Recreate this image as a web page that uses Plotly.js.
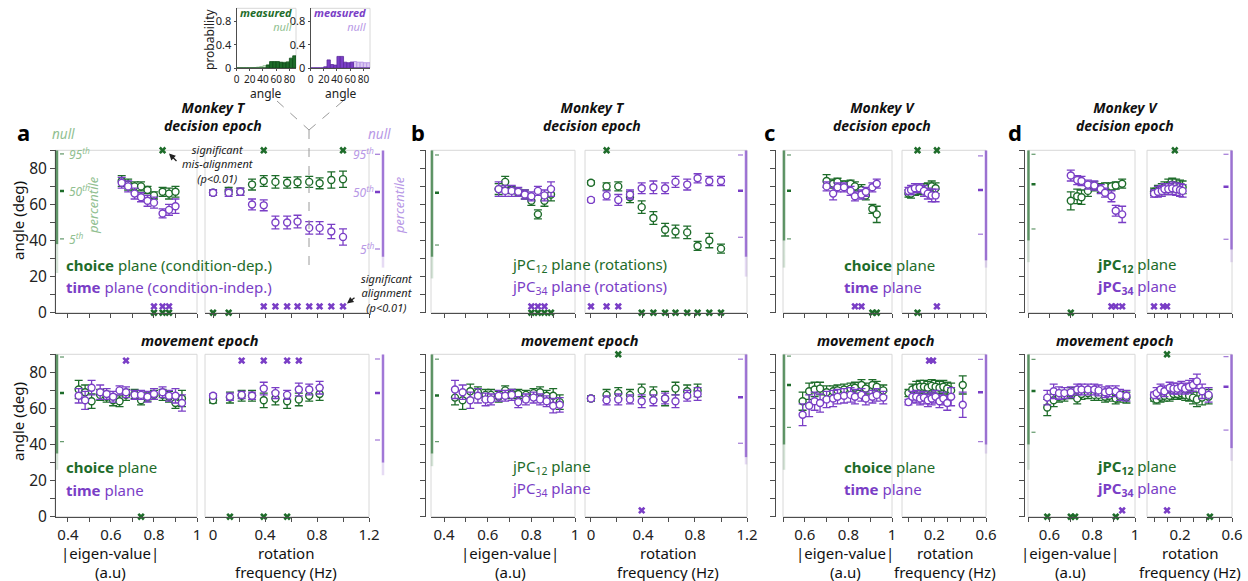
<!DOCTYPE html>
<html><head><meta charset="utf-8">
<script src="https://cdn.plot.ly/plotly-3.0.1.min.js"></script>
<style>html,body{margin:0;padding:0;background:#fff;}#chart{width:1248px;height:581px;}</style>
</head><body><div id="chart"></div>
<script>
// ================= DATA =================
// Panel a : Monkey T, choice / time planes
const aDecEigX = [0.65,0.68,0.71,0.74,0.77,0.80,0.84,0.87,0.90];
const aDecEigChoice = [73,71,70,70,68,65,67,66,67];
const aDecEigChoiceErr = [3,3,2.5,2.5,2,2,2.5,3,3];
const aDecEigTime = [72,70,66,64,62,61,55,57,59];
const aDecEigTimeErr = [3,3,3,2.5,3,3,2.5,3,4];
const aDecEigSig = {gMis:[0.84], gAli:[0.80,0.84,0.87], pMis:[], pAli:[0.80,0.84,0.87]};
const aDecRotX = [0,0.12,0.21,0.30,0.39,0.48,0.57,0.65,0.74,0.82,0.91,1.0];
const aDecRotChoice = [66.5,67.5,67,71,73,72.5,72,72.3,72.5,71.7,73.5,74];
const aDecRotChoiceErr = [1.5,2,2,3,3,3.5,3,3,3,3,4.5,4.5];
const aDecRotTime = [66.5,66.5,67,60,59.5,50,50,50.5,47,47,45,42];
const aDecRotTimeErr = [1.5,2,2,3,3,3.5,3.5,3.5,3.5,3.5,4,4.5];
const aDecRotSig = {gMis:[0.39,1.0], gAli:[0,0.12], pMis:[], pAli:[0.39,0.48,0.57,0.65,0.74,0.82,0.91,1.0]};
const aDecNullChoice = [40.9,67.5,88,38,22];   // p5, p50, p95, dense-until, faint-until
const aDecNullTime = [35.3,66.9,87.8,31,25];

const aMovEigX = [0.45,0.48,0.51,0.55,0.58,0.61,0.64,0.67,0.71,0.74,0.77,0.80,0.84,0.87,0.90,0.93];
const aMovEigChoice = [70.5,69,64,67.5,66.5,64.5,64,67.5,68,64.5,66.5,67.5,67.5,66.5,63,65.5];
const aMovEigChoiceErr = [5,4,4,3,3,3,3,3,2.5,2.5,2.5,2.5,3,3,3,4.5];
const aMovEigTime = [67,64.5,71.5,69,68,66.5,70,69,67.5,67.5,66.5,68,69,67,67,63];
const aMovEigTimeErr = [4,5,4,4,3,3,2.5,3,2.5,2.5,3,3,3,3,4,4.5];
const aMovEigSig = {gMis:[], gAli:[0.74], pMis:[0.67], pAli:[]};
const aMovRotX = [0,0.13,0.22,0.30,0.39,0.48,0.57,0.66,0.74,0.82];
const aMovRotChoice = [64.5,66,67,67,64.5,65.5,64,65,67,68];
const aMovRotChoiceErr = [1.5,3,3,3,4,3.5,4,3.5,3,3.5];
const aMovRotTime = [67,66.5,67.5,67,71,68.5,67.5,70.5,70.5,71.5];
const aMovRotTimeErr = [1,2,2,2,3.5,3,2.5,3.5,3,3.5];
const aMovRotSig = {gMis:[], gAli:[0.13,0.39,0.57], pMis:[0.22,0.39,0.57,0.66], pAli:[]};
const aMovNullChoice = [41.6,68.6,88.5,35,26];
const aMovNullTime = [42.5,68.6,87.4,30,23];

// Panel b : Monkey T, jPC planes
const bDecEigX = [0.65,0.68,0.71,0.74,0.77,0.80,0.83,0.86,0.89];
const bDecEigJ12 = [68.5,72.5,68,66.5,65.5,62,54.5,62,65.5];
const bDecEigJ12Err = [3,3,2,2,2.5,2.5,2.5,3,3.5];
const bDecEigJ34 = [68.5,67.5,67.5,67,65.5,64.5,67.5,65,68.5];
const bDecEigJ34Err = [4,3,3,2.5,2.5,2.5,2.5,3,4];
const bDecEigSig = {gMis:[], gAli:[0.80,0.83,0.86,0.89], pMis:[], pAli:[0.80,0.83,0.86]};
const bDecRotX = [0,0.12,0.21,0.30,0.39,0.48,0.57,0.65,0.74,0.82,0.91,1.0];
const bDecRotJ12 = [72,70,70,64,58.5,52.5,46,45,44.5,37,40,35.5];
const bDecRotJ12Err = [1,2,2.5,3,3.5,3.5,3.5,3.5,3.5,2.5,4,2.5];
const bDecRotJ34 = [62.5,65,62.5,65.5,69,69.5,69,72.5,71,74.5,73,73];
const bDecRotJ34Err = [1,2.5,3,2.5,3,3.5,3,3,3,2.5,2.5,2.5];
const bDecRotSig = {gMis:[0.12], gAli:[0.39,0.48,0.57,0.65,0.74,0.82,0.91,1.0], pMis:[], pAli:[0,0.12,0.21]};
const bDecNullJ12 = [37.5,66.5,87.4,31,19];
const bDecNullJ34 = [41.8,67.6,87.4,31,20];

const bMovEigX = [0.45,0.485,0.52,0.555,0.59,0.615,0.65,0.68,0.71,0.74,0.775,0.81,0.84,0.87,0.90,0.93];
const bMovEigJ12 = [66,64.5,69.5,69,67.5,67.5,66.5,70,68,68,67.5,68.5,69,67,67,63.5];
const bMovEigJ12Err = [4,5,4,3,3,3,3,2.5,2.5,2.5,2.5,2.5,3,3,4,4];
const bMovEigJ34 = [70.5,69,64.5,67,65,65,67,67,67.5,63.5,65,66,65,64,61.5,62];
const bMovEigJ34Err = [5,4,4.5,4,3.5,3,3,3,3,3,3,3,3,3,4,4];
const bMovEigSig = {gMis:[], gAli:[], pMis:[], pAli:[]};
const bMovRotX = [0,0.12,0.21,0.30,0.39,0.48,0.57,0.65,0.74,0.82];
const bMovRotJ12 = [65.5,67.5,68.5,67.5,70,68.5,65.5,71,69.5,70];
const bMovRotJ12Err = [1.5,3,3,3,3.5,3.5,4,3.5,3.5,3.5];
const bMovRotJ34 = [65.5,64.5,65,65,64,64.5,65.5,64,67,68];
const bMovRotJ34Err = [1,2.5,3,2.5,3.5,3,3,3.5,3,3.5];
const bMovRotSig = {gMis:[0.21], gAli:[], pMis:[], pAli:[0.39]};
const bMovNullJ12 = [41.6,67.1,87.3,35,28];
const bMovNullJ34 = [40.7,66.2,87.3,33,29];

// Panel c : Monkey V, choice / time planes
const cDecEigX = [0.70,0.73,0.75,0.78,0.81,0.83,0.86,0.88,0.91,0.93];
const cDecEigChoice = [73,71.5,72.5,71,71.5,70,68,65,57.5,54.5];
const cDecEigChoiceErr = [3.5,2.5,2,2,2,2.5,3,2.5,2.5,4.5];
const cDecEigTime = [70,66,69.5,69.5,67.5,64.5,65.5,67,69.5,71.5];
const cDecEigTimeErr = [2.5,3.5,2.5,2.5,2.5,2.5,2.5,2.5,2.5,2.5];
const cDecEigSig = {gMis:[], gAli:[0.91,0.93], pMis:[], pAli:[0.83,0.86]};
const cDecRotX = [0,0.02,0.05,0.085,0.12,0.15,0.18,0.21];
const cDecRotChoice = [66,66,67.5,68,68.5,69,70,69];
const cDecRotChoiceErr = [2,2.5,2.5,2.5,3,3,3,3];
const cDecRotTime = [67.5,68,69,69,67.5,66,65,65];
const cDecRotTimeErr = [2,2.5,2.5,2.5,3,3,3.5,3.5];
const cDecRotSig = {gMis:[0.07,0.22], gAli:[0.07], pMis:[], pAli:[0.22]};
const cDecNullChoice = [40.9,67.6,87.4,40,25];
const cDecNullTime = [43.5,68,86.9,29,25];

const cMovEigX = [0.59,0.62,0.645,0.67,0.70,0.73,0.75,0.78,0.81,0.83,0.86,0.88,0.91,0.93,0.96];
const cMovEigChoice = [64,69.5,70.5,71,69,69.5,70,70.5,71,71.5,73,71,73,72,70];
const cMovEigChoiceErr = [5,4.5,4,3.5,3.5,3,3,3,3,3,3,3,3,3,3];
const cMovEigTime = [56.5,61.5,64,63,65,65.5,66.5,67,67.5,66.5,67.5,65.5,66.5,67.5,66];
const cMovEigTimeErr = [6,6,5,5,4.5,4.5,4,4,4,4,3.5,3.5,3.5,3.5,3.5];
const cMovEigSig = {gMis:[], gAli:[], pMis:[], pAli:[]};
const cMovRotX = [0,0.03,0.06,0.09,0.12,0.15,0.18,0.21,0.24,0.27,0.30,0.33,0.42];
const cMovRotChoice = [68.5,70.5,71.5,72,72,71.5,72.5,72,71.5,72,71,70,73];
const cMovRotChoiceErr = [2,3,3.5,3.5,3.5,3.5,3.5,3.5,3.5,3.5,3.5,4,5];
const cMovRotTime = [63.5,66.5,66.5,65.5,66,64.5,65.5,66.5,64,65.5,63,66.5,62];
const cMovRotTimeErr = [1.5,3,3.5,3.5,3.5,3.5,3.5,3.5,3.5,3.5,4,5,7];
const cMovRotSig = {gMis:[], gAli:[], pMis:[0.16,0.19], pAli:[]};
const cMovNullChoice = [49.5,73,89,40,26];
const cMovNullTime = [41.6,69,87.2,40,35];

// Panel d : Monkey V, jPC planes
const dDecEigX = [0.70,0.73,0.75,0.78,0.81,0.84,0.86,0.89,0.91,0.94];
const dDecEigJ12 = [62,64.5,64,67.5,70,69,70,70,70.5,71.5];
const dDecEigJ12Err = [5,4,4,3,2.5,2.5,2,2,2,2.5];
const dDecEigJ34 = [76,73.5,73,71,70.5,68.5,66.5,64.5,56.5,54.5];
const dDecEigJ34Err = [3,2.5,2.5,2.5,2.5,2.5,2.5,3,3,4.5];
const dDecEigSig = {gMis:[], gAli:[0.70], pMis:[], pAli:[0.89,0.91,0.94]};
const dDecRotX = [0,0.03,0.06,0.08,0.11,0.14,0.17,0.20,0.22];
const dDecRotJ12 = [67,67.5,68.5,69.5,70.5,71,70.5,70,69.5];
const dDecRotJ12Err = [2,3,3,3,3.5,3.5,3.5,3.5,3.5];
const dDecRotJ34 = [66,67,67.5,68.5,68.5,69,68.5,68,67.5];
const dDecRotJ34Err = [2,3,3,3,3,3.5,3.5,3.5,3.5];
const dDecRotSig = {gMis:[0.16], gAli:[], pMis:[], pAli:[0,0.07,0.10]};
const dDecNullJ12 = [46.4,71.2,87.8,40,28];
const dDecNullJ34 = [40.7,69.8,87.8,35,28];

const dMovEigX = [0.59,0.62,0.645,0.67,0.70,0.73,0.75,0.78,0.81,0.83,0.86,0.88,0.91,0.93,0.96];
const dMovEigJ12 = [60.5,64.5,66.5,67,68.5,65.5,68,68.5,67.5,67.5,66.5,67,65.5,66.5,66];
const dMovEigJ12Err = [4.5,3.5,3,3,3,3,3,3,3,3,3,3,3,3,3];
const dMovEigJ34 = [66,69.5,68.5,68.5,69,70.5,70.5,70.5,70.5,70,69,69.5,69.5,67.5,67];
const dMovEigJ34Err = [4,4,3.5,3,3,3,3,3,3,3,3,3,3,3,3];
const dMovEigSig = {gMis:[], gAli:[0.59,0.70,0.72,0.91], pMis:[], pAli:[0.94]};
const dMovRotX = [0,0.02,0.05,0.08,0.12,0.15,0.18,0.21,0.24,0.27,0.30,0.33,0.37,0.42];
const dMovRotJ12 = [65.5,65,66.5,67,67,68,68,68.5,67.5,67,66,65,66,66.5];
const dMovRotJ12Err = [1.5,2.5,3,3,3,3,3,3,3,3,3.5,4,4,4];
const dMovRotJ34 = [67.5,68.5,70.5,69.5,71.5,71,71,72,71,72,73,75,69.5,67.5];
const dMovRotJ34Err = [1.5,3,3,3,3,3,3,3,3,3.5,3.5,4,4,4];
const dMovRotSig = {gMis:[0.10], gAli:[0.43], pMis:[], pAli:[0.10]};
const dMovNullJ12 = [46.8,69.7,87.2,40,26];
const dMovNullJ34 = [48,72,88.7,38,31];

// Inset histograms (angle distribution, 5-degree bins)
const binCenters = [2.5,7.5,12.5,17.5,22.5,27.5,32.5,37.5,42.5,47.5,52.5,57.5,62.5,67.5,72.5,77.5,82.5,87.5];
const histChoiceMeasured = [0,0,0,0,0,0,0,0,0,0.05,0.11,0.11,0.11,0.10,0.09,0.10,0.17,0.21];
const histChoiceNull = [0,0,0,0.003,0.005,0.008,0.015,0.025,0.04,0.055,0.065,0.075,0.085,0.095,0.10,0.11,0.12,0.13];
const histTimeMeasured = [0,0,0,0,0.02,0.14,0.06,0.05,0.20,0.20,0.10,0.09,0.10,0,0,0,0,0];
const histTimeNull = [0,0,0,0,0,0.005,0.01,0.02,0.03,0.05,0.07,0.08,0.10,0.11,0.10,0.10,0.09,0.09];

// Tick labels
const yTickVals = [0,10,20,30,40,50,60,70,80,90];
const yTickText = ['0','','20','','40','','60','','80',''];
const eigTicksAB = [0.4,0.5,0.6,0.7,0.8,0.9,1.0];
const eigTextAB = ['0.4','','0.6','','0.8','','1'];
const rotTicksAB = [0,0.2,0.4,0.6,0.8,1.0,1.2];
const rotTextAB = ['0','','0.4','','0.8','','1.2'];
const eigTicksCD = [0.5,0.6,0.7,0.8,0.9,1.0];
const eigTextCD = ['','0.6','','0.8','','1'];
const rotTicksCD = [0,0.1,0.2,0.3,0.4,0.5,0.6];
const rotTextCD = ['','','0.2','','','','0.6'];
const histXTicks = [0,20,40,60,80];
const histXText = ['0','20','40','60','80'];
const histYTicks = [0,0.4,0.8];
const histYText = ['0','0.4','0.8'];

// ================= DRAWING =================
const W = 1248, H = 581;
const px = x => x / W;
const py = y => 1 - y / H;
const G = '#1e6c2a', P = '#7a3ec6', LG = '#91bf91', LP = '#b899e6', AX = '#4d4d4d', FR = '#d8d8d8';
const FONT = '"Noto Sans", "Open Sans", sans-serif';
const MIS_G = 90, MIS_P = 86.5, ALI_G = 0, ALI_P = 3.5;

const traces = [], shapes = [], annotations = [];
const layout = {
  width: W, height: H, margin: {l:0, r:0, t:0, b:0},
  paper_bgcolor: '#fff', plot_bgcolor: 'rgba(0,0,0,0)', showlegend: false,
  font: {family: FONT, color: '#222', size: 15}, barmode: 'overlay', bargap: 0,
  shapes, annotations
};
const axKey = r => (r[0] === 'x' ? 'xaxis' : 'yaxis') + r.slice(1);

function addX(ref, yref, d0, d1, range, tv, tt, labels) {
  layout[axKey(ref)] = {domain: [px(d0), px(d1)], range, anchor: yref, showline: true, linecolor: AX, linewidth: 1,
    ticks: 'outside', ticklen: 4, tickcolor: AX, tickwidth: 1, tickmode: 'array', tickvals: tv, ticktext: tt, tickangle: 0,
    showticklabels: labels, tickfont: {size: 15, color: '#222'}, showgrid: false, zeroline: false, fixedrange: true};
}
function addY(ref, dom, pos, labels) {
  layout[axKey(ref)] = {domain: dom, range: [0, 90], anchor: 'free', position: px(pos), showline: true, linecolor: AX,
    linewidth: 1, ticks: 'outside', ticklen: 5, tickcolor: AX, tickmode: 'array', tickvals: yTickVals, ticktext: yTickText,
    showticklabels: labels, tickfont: {size: 15.5, color: '#222'}, showgrid: false, zeroline: false, fixedrange: true};
}
function frame(xref, yref) {
  shapes.push({type: 'rect', xref: xref + ' domain', yref: yref + ' domain', x0: 0, x1: 1, y0: 0, y1: 1,
    line: {color: FR, width: 1}, layer: 'below'});
}
function series(xref, yref, x, y, err, color) {
  traces.push({type: 'scatter', mode: 'markers', x, y, xaxis: xref, yaxis: yref, cliponaxis: false, hoverinfo: 'skip',
    error_y: {type: 'data', array: err, visible: true, color, thickness: 1.3, width: 4},
    marker: {symbol: 'circle', size: 7, color: 'white', line: {color, width: 1.4}}});
}
function sig(xref, yref, xs, yv, color) {
  if (!xs.length) return;
  traces.push({type: 'scatter', mode: 'markers', x: xs, y: xs.map(() => yv), xaxis: xref, yaxis: yref,
    cliponaxis: false, hoverinfo: 'skip', marker: {symbol: 'x', size: 6.5, color, line: {width: 0}}});
}
function strip(xp, yref, n, color, side) {
  shapes.push({type: 'line', xref: 'paper', yref, x0: px(xp), x1: px(xp), y0: n[3], y1: 90, line: {color, width: 2.5}, opacity: 0.7});
  shapes.push({type: 'line', xref: 'paper', yref, x0: px(xp), x1: px(xp), y0: n[4], y1: n[3], line: {color, width: 2.5}, opacity: 0.18});
  const a = side === 'L' ? xp + 3 : xp - 8, b = side === 'L' ? xp + 7 : xp - 3;
  [0, 1, 2].forEach(i => shapes.push({type: 'line', xref: 'paper', yref, x0: px(a), x1: px(b), y0: n[i], y1: n[i],
    line: {color, width: i === 1 ? 2.5 : 1.2}, opacity: i === 1 ? 1 : 0.7}));
}

const panels = [
  {yPos: 55, eig: [55, 197], eigR: [0.34, 1.0], eT: eigTicksAB, eTT: eigTextAB, rot: [205, 369], rotR: [-0.062, 1.2], rT: rotTicksAB, rTT: rotTextAB, sL: 57, sR: 383},
  {yPos: 425, eig: [431, 575], eigR: [0.34, 1.0], eT: eigTicksAB, eTT: eigTextAB, rot: [585, 747], rotR: [-0.046, 1.2], rT: rotTicksAB, rTT: rotTextAB, sL: 432, sR: 746},
  {yPos: 775, eig: [783, 892], eigR: [0.5, 1.0], eT: eigTicksCD, eTT: eigTextCD, rot: [902, 986], rotR: [-0.05, 0.6], rT: rotTicksCD, rTT: rotTextCD, sL: 784, sR: 986},
  {yPos: 1024, eig: [1028, 1135], eigR: [0.5, 1.0], eT: eigTicksCD, eTT: eigTextCD, rot: [1147, 1232], rotR: [-0.054, 0.6], rT: rotTicksCD, rTT: rotTextCD, sL: 1028.5, sR: 1231.5}
];
const rows = [[py(312.7), py(150.3)], [py(516.7), py(354.3)]];

const sets = [
  {p: 0, r: 0, xe: 'x', xr: 'x2', y: 'y', eX: aDecEigX, eG: aDecEigChoice, eGe: aDecEigChoiceErr, eP: aDecEigTime, ePe: aDecEigTimeErr, eS: aDecEigSig,
   rX: aDecRotX, rG: aDecRotChoice, rGe: aDecRotChoiceErr, rP: aDecRotTime, rPe: aDecRotTimeErr, rS: aDecRotSig, nL: aDecNullChoice, nR: aDecNullTime},
  {p: 0, r: 1, xe: 'x3', xr: 'x4', y: 'y2', eX: aMovEigX, eG: aMovEigChoice, eGe: aMovEigChoiceErr, eP: aMovEigTime, ePe: aMovEigTimeErr, eS: aMovEigSig,
   rX: aMovRotX, rG: aMovRotChoice, rGe: aMovRotChoiceErr, rP: aMovRotTime, rPe: aMovRotTimeErr, rS: aMovRotSig, nL: aMovNullChoice, nR: aMovNullTime},
  {p: 1, r: 0, xe: 'x5', xr: 'x6', y: 'y3', eX: bDecEigX, eG: bDecEigJ12, eGe: bDecEigJ12Err, eP: bDecEigJ34, ePe: bDecEigJ34Err, eS: bDecEigSig,
   rX: bDecRotX, rG: bDecRotJ12, rGe: bDecRotJ12Err, rP: bDecRotJ34, rPe: bDecRotJ34Err, rS: bDecRotSig, nL: bDecNullJ12, nR: bDecNullJ34},
  {p: 1, r: 1, xe: 'x7', xr: 'x8', y: 'y4', eX: bMovEigX, eG: bMovEigJ12, eGe: bMovEigJ12Err, eP: bMovEigJ34, ePe: bMovEigJ34Err, eS: bMovEigSig,
   rX: bMovRotX, rG: bMovRotJ12, rGe: bMovRotJ12Err, rP: bMovRotJ34, rPe: bMovRotJ34Err, rS: bMovRotSig, nL: bMovNullJ12, nR: bMovNullJ34},
  {p: 2, r: 0, xe: 'x9', xr: 'x10', y: 'y5', eX: cDecEigX, eG: cDecEigChoice, eGe: cDecEigChoiceErr, eP: cDecEigTime, ePe: cDecEigTimeErr, eS: cDecEigSig,
   rX: cDecRotX, rG: cDecRotChoice, rGe: cDecRotChoiceErr, rP: cDecRotTime, rPe: cDecRotTimeErr, rS: cDecRotSig, nL: cDecNullChoice, nR: cDecNullTime},
  {p: 2, r: 1, xe: 'x11', xr: 'x12', y: 'y6', eX: cMovEigX, eG: cMovEigChoice, eGe: cMovEigChoiceErr, eP: cMovEigTime, ePe: cMovEigTimeErr, eS: cMovEigSig,
   rX: cMovRotX, rG: cMovRotChoice, rGe: cMovRotChoiceErr, rP: cMovRotTime, rPe: cMovRotTimeErr, rS: cMovRotSig, nL: cMovNullChoice, nR: cMovNullTime},
  {p: 3, r: 0, xe: 'x13', xr: 'x14', y: 'y7', eX: dDecEigX, eG: dDecEigJ12, eGe: dDecEigJ12Err, eP: dDecEigJ34, ePe: dDecEigJ34Err, eS: dDecEigSig,
   rX: dDecRotX, rG: dDecRotJ12, rGe: dDecRotJ12Err, rP: dDecRotJ34, rPe: dDecRotJ34Err, rS: dDecRotSig, nL: dDecNullJ12, nR: dDecNullJ34},
  {p: 3, r: 1, xe: 'x15', xr: 'x16', y: 'y8', eX: dMovEigX, eG: dMovEigJ12, eGe: dMovEigJ12Err, eP: dMovEigJ34, ePe: dMovEigJ34Err, eS: dMovEigSig,
   rX: dMovRotX, rG: dMovRotJ12, rGe: dMovRotJ12Err, rP: dMovRotJ34, rPe: dMovRotJ34Err, rS: dMovRotSig, nL: dMovNullJ12, nR: dMovNullJ34}
];

sets.forEach(s => {
  const pn = panels[s.p], dom = rows[s.r], bottom = s.r === 1;
  addY(s.y, dom, pn.yPos, s.p === 0);
  addX(s.xe, s.y, pn.eig[0], pn.eig[1], pn.eigR, pn.eT, pn.eTT, bottom);
  addX(s.xr, s.y, pn.rot[0], pn.rot[1], pn.rotR, pn.rT, pn.rTT, bottom);
  frame(s.xe, s.y); frame(s.xr, s.y);
  strip(pn.sL, s.y, s.nL, G, 'L');
  strip(pn.sR, s.y, s.nR, P, 'R');
  series(s.xe, s.y, s.eX, s.eG, s.eGe, G);
  series(s.xe, s.y, s.eX, s.eP, s.ePe, P);
  series(s.xr, s.y, s.rX, s.rG, s.rGe, G);
  series(s.xr, s.y, s.rX, s.rP, s.rPe, P);
  [[s.xe, s.eS], [s.xr, s.rS]].forEach(([xr, S]) => {
    sig(xr, s.y, S.gMis, MIS_G, G); sig(xr, s.y, S.gAli, ALI_G, G);
    sig(xr, s.y, S.pMis, MIS_P, P); sig(xr, s.y, S.pAli, ALI_P, P);
  });
});

// ---- inset histograms
function histAxes(xr, yr, d0, d1) {
  layout[axKey(xr)] = {domain: [px(d0), px(d1)], range: [0, 90], anchor: yr, showline: true, linecolor: AX, ticks: 'outside',
    ticklen: 2, tickcolor: AX, tickmode: 'array', tickvals: histXTicks, ticktext: histXText, tickangle: 0,
    tickfont: {size: 10, color: '#222'}, showgrid: false, zeroline: false, fixedrange: true};
  layout[axKey(yr)] = {domain: [py(68), py(8.3)], range: [0, 1.03], anchor: xr, showline: true, linecolor: AX, ticks: 'outside',
    ticklen: 2, tickcolor: AX, tickmode: 'array', tickvals: histYTicks, ticktext: histYText, tickfont: {size: 11, color: '#222'},
    showgrid: false, zeroline: false, fixedrange: true};
  frame(xr, yr);
}
histAxes('x17', 'y9', 236.5, 296);
histAxes('x18', 'y10', 310.5, 370);
traces.push({type: 'bar', x: binCenters, y: histChoiceNull, width: 5, xaxis: 'x17', yaxis: 'y9', hoverinfo: 'skip',
  marker: {color: 'rgba(200,225,200,0.6)', line: {color: '#9cc49c', width: 1}}});
traces.push({type: 'bar', x: binCenters, y: histChoiceMeasured, width: 5, xaxis: 'x17', yaxis: 'y9', hoverinfo: 'skip',
  marker: {color: '#1e6c2a', line: {color: '#0f4a18', width: 0.8}}});
traces.push({type: 'bar', x: binCenters, y: histTimeNull, width: 5, xaxis: 'x18', yaxis: 'y10', hoverinfo: 'skip',
  marker: {color: 'rgba(215,195,240,0.9)', line: {color: '#b899e6', width: 1}}});
traces.push({type: 'bar', x: binCenters, y: histTimeMeasured, width: 5, xaxis: 'x18', yaxis: 'y10', hoverinfo: 'skip',
  marker: {color: '#7a3ec6', line: {color: '#5a2a9a', width: 0.8}}});

// ---- text
function A(text, x, y, o) {
  annotations.push(Object.assign({text, x: px(x), y: py(y), xref: 'paper', yref: 'paper', showarrow: false,
    xanchor: 'center', yanchor: 'middle', font: {size: 15, color: '#111'}}, o || {}));
}
// panel letters
[['a', 23, 132], ['b', 418, 132], ['c', 769, 132], ['d', 1015, 132]].forEach(l => A('<b>' + l[0] + '</b>', l[1], l[2], {font: {size: 22, color: '#000'}}));
// titles (two lines in one block)
[[213, 'Monkey T'], [592, 'Monkey T'], [882, 'Monkey V'], [1125, 'Monkey V']].forEach(t => {
  A('<b><i>' + t[1] + '<br>decision epoch</i></b>', t[0], 116.5, {font: {size: 14, color: '#111'}, align: 'center'});
});
[200, 580, 876, 1115].forEach(x => A('<b><i>movement epoch</i></b>', x, 340, {font: {size: 14.5, color: '#111'}}));
// y titles
A('angle (deg)', 18, 221, {textangle: -90});
A('angle (deg)', 18, 422, {textangle: -90});
// x titles
[[110, 286], [510, 668], [845, 945], [1070, 1190]].forEach(t => {
  A('|eigen-value|', t[0], 553); A('(a.u)', t[0], 572);
  A('rotation', t[1], 553); A('frequency (Hz)', t[1], 572);
});
// plane legends
function legend(x, y1, y2, g, p) {
  A(g, x, y1, {xanchor: 'left', font: {size: 15, color: G}});
  A(p, x, y2, {xanchor: 'left', font: {size: 15, color: P}});
}
legend(64, 265, 287, '<b>choice</b> plane (condition-dep.)', '<b>time</b> plane (condition-indep.)');
legend(510, 265, 287, 'jPC<sub>12</sub> plane (rotations)', 'jPC<sub>34</sub> plane (rotations)');
legend(842, 265, 287, '<b>choice</b> plane', '<b>time</b> plane');
legend(1095, 265, 287, '<b>jPC<sub>12</sub></b> plane', '<b>jPC<sub>34</sub></b> plane');
legend(64, 467, 490, '<b>choice</b> plane', '<b>time</b> plane');
legend(510, 467, 489, 'jPC<sub>12</sub> plane', 'jPC<sub>34</sub> plane');
legend(842, 467, 489, '<b>choice</b> plane', '<b>time</b> plane');
legend(1095, 467, 489, '<b>jPC<sub>12</sub></b> plane', '<b>jPC<sub>34</sub></b> plane');
// null / percentile labels (panel a, decision)
A('<i>null</i>', 63, 134, {font: {size: 13.5, color: LG}});
A('<i>null</i>', 380, 134, {font: {size: 13.5, color: LP}});
['5', '50', '95'].forEach((t, i) => {
  annotations.push({text: '<i>' + t + '<sup>th</sup></i>', x: px(67), y: aDecNullChoice[i], xref: 'paper', yref: 'y',
    showarrow: false, xanchor: 'left', yanchor: 'middle', font: {size: 12, color: LG}});
  annotations.push({text: '<i>' + t + '<sup>th</sup></i>', x: px(376), y: aDecNullTime[i], xref: 'paper', yref: 'y',
    showarrow: false, xanchor: 'right', yanchor: 'middle', font: {size: 12, color: LP}});
});
A('<i>percentile</i>', 93, 205, {textangle: -90, font: {size: 13, color: LG}});
A('<i>percentile</i>', 399, 205, {textangle: -90, font: {size: 13, color: LP}});
// significance notes (one block each)
A('<i>significant<br>mis-alignment<br>(p&lt;0.01)</i>', 217, 163.5, {font: {size: 11, color: '#222'}, align: 'center'});
A('<i>significant<br>alignment<br>(p&lt;0.01)</i>', 386, 293, {font: {size: 11, color: '#222'}, align: 'center'});
annotations.push({text: '', x: px(169), y: py(153.5), xref: 'paper', yref: 'paper', showarrow: true, ax: 9, ay: 9,
  arrowhead: 2, arrowsize: 1, arrowwidth: 1.3, arrowcolor: '#222'});
annotations.push({text: '', x: px(347), y: py(303.5), xref: 'paper', yref: 'paper', showarrow: true, ax: 9, ay: -7,
  arrowhead: 2, arrowsize: 1, arrowwidth: 1.3, arrowcolor: '#222'});
// inset labels
A('<b><i>measured</i></b><br><span style="color:' + LG + '"><i>null</i></span>', 295, 19.5,
  {xanchor: 'right', align: 'right', font: {size: 11, color: G}});
A('<b><i>measured</i></b><br><span style="color:' + LP + '"><i>null</i></span>', 368.5, 19.5,
  {xanchor: 'right', align: 'right', font: {size: 11, color: P}});
A('probability', 210, 40, {textangle: -90, font: {size: 12, color: '#222'}});
A('angle', 266, 93, {font: {size: 12, color: '#222'}});
A('angle', 341, 93, {font: {size: 12, color: '#222'}});
// dashed guides from inset to panel a
[[277, 101, 309, 130], [343, 101, 309, 130], [309, 130, 309, 265]].forEach(l => shapes.push({type: 'line', xref: 'paper', yref: 'paper',
  x0: px(l[0]), y0: py(l[1]), x1: px(l[2]), y1: py(l[3]), line: {color: '#9a9a9a', width: 1, dash: 'dash'}}));

Plotly.newPlot('chart', traces, layout, {staticPlot: true, displayModeBar: false});
</script></body></html>
